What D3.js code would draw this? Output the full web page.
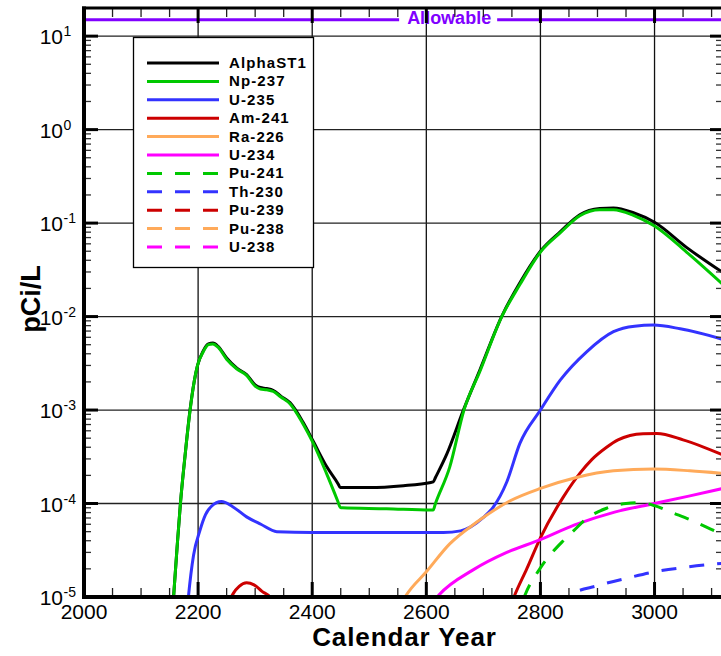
<!DOCTYPE html>
<html>
<head>
<meta charset="utf-8">
<script src="https://cdn.jsdelivr.net/npm/d3@7"></script>
<style>
  body { margin: 0; background: #fff; }
  svg { display: block; }
  text { font-family: Arial, "Liberation Sans", sans-serif; }
</style>
</head>
<body>
<svg id="chart" width="721" height="656"></svg>
<script>
// ---- data: concentration (pCi/L) versus calendar year ----
const alphaYears  = [2150, 2157, 2163, 2169, 2177, 2186, 2193, 2199, 2209, 2218, 2226, 2235, 2250, 2268, 2285, 2300, 2309, 2320, 2332, 2345, 2361, 2384, 2402, 2425, 2446, 2449, 2453, 2500, 2560, 2608, 2612, 2616, 2636, 2665, 2694, 2732, 2764, 2800, 2835, 2869, 2904, 2928, 2963, 3000, 3056, 3120];
const alphaValues = [2.5e-6, 1e-5, 3.3e-5, 1e-4, 3.2e-4, 1.02e-3, 2.0e-3, 3.0e-3, 4.3e-3, 5.1e-3, 5.2e-3, 4.8e-3, 3.6e-3, 2.8e-3, 2.4e-3, 1.86e-3, 1.74e-3, 1.70e-3, 1.62e-3, 1.41e-3, 1.20e-3, 7.4e-4, 4.6e-4, 2.5e-4, 1.6e-4, 1.48e-4, 1.48e-4, 1.48e-4, 1.55e-4, 1.68e-4, 1.7e-4, 1.9e-4, 3.4e-4, 1.0e-3, 2.7e-3, 1.0e-2, 2.3e-2, 5.0e-2, 8.1e-2, 0.123, 0.143, 0.145, 0.129, 0.102, 5.5e-2, 2.95e-2];

const npYears  = [2150, 2157, 2163, 2169, 2177, 2186, 2193, 2199, 2209, 2218, 2226, 2235, 2250, 2268, 2285, 2300, 2309, 2320, 2332, 2345, 2361, 2384, 2402, 2425, 2445, 2449, 2453, 2530, 2608, 2612, 2616, 2641, 2666, 2694, 2732, 2764, 2800, 2835, 2869, 2904, 2928, 2963, 3000, 3056, 3120];
const npValues = [2.5e-6, 1e-5, 3.3e-5, 1e-4, 3.2e-4, 1.0e-3, 2.0e-3, 3.0e-3, 4.2e-3, 5.0e-3, 5.1e-3, 4.7e-3, 3.5e-3, 2.75e-3, 2.35e-3, 1.8e-3, 1.68e-3, 1.65e-3, 1.58e-3, 1.38e-3, 1.17e-3, 7.1e-4, 4.4e-4, 2.1e-4, 1.05e-4, 9.1e-5, 9.0e-5, 8.8e-5, 8.5e-5, 8.5e-5, 1.0e-4, 2.45e-4, 1.0e-3, 2.6e-3, 9.9e-3, 2.2e-2, 4.9e-2, 7.9e-2, 0.12, 0.139, 0.139, 0.121, 0.093, 4.9e-2, 2.2e-2];

const u235Years  = [2175, 2183, 2192, 2203, 2213, 2223, 2241, 2260, 2285, 2310, 2338, 2400, 2500, 2630, 2660, 2677, 2700, 2717, 2741, 2764, 2800, 2835, 2881, 2928, 2965, 2998, 3045, 3120];
const u235Values = [2.5e-6, 1e-5, 2.8e-5, 5.1e-5, 7.6e-5, 9.3e-5, 1.05e-4, 9.3e-5, 7.2e-5, 6.0e-5, 5.0e-5, 4.9e-5, 4.9e-5, 4.9e-5, 5.1e-5, 5.6e-5, 7.1e-5, 9.1e-5, 1.7e-4, 4.4e-4, 1.0e-3, 2.1e-3, 4.2e-3, 6.9e-3, 7.9e-3, 8.1e-3, 7.4e-3, 5.7e-3];

const am241Years  = [2240, 2255, 2262, 2272, 2285, 2298, 2312, 2326, 2340, 2735, 2755, 2776, 2800, 2840, 2869, 2890, 2916, 2936, 2957, 2980, 3004, 3050, 3120];
const am241Values = [4e-6, 9e-6, 1.1e-5, 1.3e-5, 1.42e-5, 1.35e-5, 1.15e-5, 1.0e-5, 7e-6, 5.0e-6, 1.05e-5, 2.0e-5, 4.3e-5, 1.17e-4, 2.1e-4, 2.95e-4, 4.0e-4, 4.8e-4, 5.35e-4, 5.58e-4, 5.6e-4, 4.8e-4, 3.3e-4];

const ra226Years  = [2545, 2565, 2600, 2641, 2688, 2747, 2800, 2863, 2928, 2998, 3062, 3120];
const ra226Values = [6.3e-6, 1.05e-5, 1.86e-5, 3.7e-5, 6.3e-5, 1.07e-4, 1.45e-4, 1.9e-4, 2.24e-4, 2.34e-4, 2.24e-4, 2.1e-4];

const u234Years  = [2600, 2622, 2682, 2741, 2800, 2860, 2930, 3000, 3060, 3120];
const u234Values = [7.1e-6, 1.05e-5, 1.95e-5, 3.0e-5, 4.1e-5, 5.9e-5, 8.1e-5, 1.0e-4, 1.2e-4, 1.45e-4];

const pu241Years  = [2755, 2773, 2800, 2840, 2858, 2881, 2916, 2950, 2975, 3000, 3033, 3060, 3091, 3120];
const pu241Values = [5e-6, 1.05e-5, 2.05e-5, 4.0e-5, 5.1e-5, 6.9e-5, 8.9e-5, 1.0e-4, 1.02e-4, 9.5e-5, 7.9e-5, 6.8e-5, 5.6e-5, 4.6e-5];

const th230Years  = [2830, 2852, 2900, 2957, 3000, 3060, 3120];
const th230Values = [7.9e-6, 1.05e-5, 1.32e-5, 1.62e-5, 1.86e-5, 2.1e-5, 2.3e-5];

// These three stay below the lower edge of the plotted range
const pu239Years = [], pu239Values = [];
const pu238Years = [], pu238Values = [];
const u238Years  = [], u238Values  = [];

const seriesNames = ["AlphaST1", "Np-237", "U-235", "Am-241", "Ra-226", "U-234", "Pu-241", "Th-230", "Pu-239", "Pu-238", "U-238"];

const allowableValue = 15;
const allowableLabel = "Allowable";
const allowableLabelYear = 2640;

const xMajorTicks = [2000, 2200, 2400, 2600, 2800, 3000];
const yDecades = [-5, -4, -3, -2, -1, 0, 1];

// ---- layout ----
const svg = d3.select("#chart");
const plotLeft = 84, plotRight = 723, plotTop = 8, plotBottom = 597;

const x = d3.scaleLinear().domain([2000, 3120]).range([plotLeft, plotRight]);
const y = d3.scaleLog().domain([1e-5, 20]).range([plotBottom, plotTop]);

const palette = {
  black: "#000000", green: "#00c800", blue: "#3333ff",
  red: "#cc0000", orange: "#ffaa5a", magenta: "#ff00ff", purple: "#8000ff"
};

const series = [
  { name: seriesNames[0],  years: alphaYears, values: alphaValues, color: palette.black,   dash: null },
  { name: seriesNames[1],  years: npYears,    values: npValues,    color: palette.green,   dash: null },
  { name: seriesNames[2],  years: u235Years,  values: u235Values,  color: palette.blue,    dash: null },
  { name: seriesNames[3],  years: am241Years, values: am241Values, color: palette.red,     dash: null },
  { name: seriesNames[4],  years: ra226Years, values: ra226Values, color: palette.orange,  dash: null },
  { name: seriesNames[5],  years: u234Years,  values: u234Values,  color: palette.magenta, dash: null },
  { name: seriesNames[6],  years: pu241Years, values: pu241Values, color: palette.green,   dash: "15,13" },
  { name: seriesNames[7],  years: th230Years, values: th230Values, color: palette.blue,    dash: "15,13" },
  { name: seriesNames[8],  years: pu239Years, values: pu239Values, color: palette.red,     dash: "15,13" },
  { name: seriesNames[9],  years: pu238Years, values: pu238Values, color: palette.orange,  dash: "15,13" },
  { name: seriesNames[10], years: u238Years,  values: u238Values,  color: palette.magenta, dash: "15,13" }
];

svg.append("defs").append("clipPath").attr("id", "plotClip")
  .append("rect").attr("x", plotLeft).attr("y", plotTop)
  .attr("width", plotRight - plotLeft).attr("height", plotBottom - plotTop);

// ---- grid ----
const grid = svg.append("g");
grid.selectAll("line.vg").data(xMajorTicks.filter(d => d > 2000)).join("line")
  .attr("x1", d => x(d)).attr("x2", d => x(d))
  .attr("y1", plotTop).attr("y2", plotBottom)
  .attr("stroke", "#111").attr("stroke-width", 1.3);
grid.selectAll("line.hg").data(yDecades.filter(d => d > -5)).join("line")
  .attr("x1", plotLeft).attr("x2", plotRight)
  .attr("y1", d => y(Math.pow(10, d))).attr("y2", d => y(Math.pow(10, d)))
  .attr("stroke", "#222").attr("stroke-width", 1.3);

// ---- allowable limit ----
const allowG = svg.append("g");
const allowY = y(allowableValue);
const allowText = allowG.append("text")
  .attr("x", x(allowableLabelYear)).attr("y", allowY + 4)
  .attr("text-anchor", "middle")
  .attr("font-size", 18).attr("font-weight", "bold")
  .attr("fill", palette.purple)
  .text(allowableLabel);
const tb = allowText.node().getBBox();
allowG.append("line").attr("x1", plotLeft).attr("x2", tb.x - 8)
  .attr("y1", allowY).attr("y2", allowY)
  .attr("stroke", palette.purple).attr("stroke-width", 3);
allowG.append("line").attr("x1", tb.x + tb.width + 6).attr("x2", plotRight)
  .attr("y1", allowY).attr("y2", allowY)
  .attr("stroke", palette.purple).attr("stroke-width", 3);

// ---- curves ----
const line = d3.line()
  .x(d => x(d[0]))
  .y(d => y(d[1]))
  .curve(d3.curveMonotoneX);

const curves = svg.append("g").attr("clip-path", "url(#plotClip)");
series.forEach(s => {
  if (!s.years.length) return;
  const pts = s.years.map((yr, i) => [yr, s.values[i]]);
  curves.append("path")
    .attr("d", line(pts))
    .attr("fill", "none")
    .attr("stroke", s.color)
    .attr("stroke-width", 3)
    .attr("stroke-linejoin", "round")
    .attr("stroke-dasharray", s.dash);
});

// ---- axes frame and ticks ----
const axes = svg.append("g");
const xMinor = d3.range(2050, 3120, 50).filter(d => d % 200 !== 0);
const yMinor = [];
yDecades.forEach(e => { for (let m = 2; m <= 9; m++) { const v = m * Math.pow(10, e); if (v < 20) yMinor.push(v); } });

// bottom & top ticks
[[plotBottom, -1], [plotTop, 1]].forEach(([yy, dir]) => {
  axes.selectAll(null).data(xMajorTicks).join("line")
    .attr("x1", d => x(d)).attr("x2", d => x(d))
    .attr("y1", yy).attr("y2", yy + dir * 15)
    .attr("stroke", "#000").attr("stroke-width", 3);
  axes.selectAll(null).data(xMinor).join("line")
    .attr("x1", d => x(d)).attr("x2", d => x(d))
    .attr("y1", yy).attr("y2", yy + dir * 9)
    .attr("stroke", "#222").attr("stroke-width", 1.3);
});
// left & right ticks
[[plotLeft, 1, 14, 7], [plotRight, -1, 13, 7]].forEach(([xx, dir, maj, mi]) => {
  axes.selectAll(null).data(yDecades).join("line")
    .attr("x1", xx).attr("x2", xx + dir * maj)
    .attr("y1", d => y(Math.pow(10, d))).attr("y2", d => y(Math.pow(10, d)))
    .attr("stroke", "#000").attr("stroke-width", 3);
  axes.selectAll(null).data(yMinor).join("line")
    .attr("x1", xx).attr("x2", xx + dir * mi)
    .attr("y1", d => y(d)).attr("y2", d => y(d))
    .attr("stroke", "#333").attr("stroke-width", 1.3);
});

axes.append("line").attr("x1", plotLeft).attr("x2", plotLeft).attr("y1", plotTop - 1.5).attr("y2", plotBottom + 2)
  .attr("stroke", "#000").attr("stroke-width", 4);
axes.append("line").attr("x1", plotLeft - 2).attr("x2", plotRight + 2).attr("y1", plotBottom).attr("y2", plotBottom)
  .attr("stroke", "#000").attr("stroke-width", 4);
axes.append("line").attr("x1", plotLeft - 2).attr("x2", plotRight + 2).attr("y1", plotTop).attr("y2", plotTop)
  .attr("stroke", "#000").attr("stroke-width", 3);
axes.append("line").attr("x1", plotRight).attr("x2", plotRight).attr("y1", plotTop).attr("y2", plotBottom)
  .attr("stroke", "#000").attr("stroke-width", 3);

// tick labels
svg.append("g").selectAll("text").data(xMajorTicks).join("text")
  .attr("x", d => x(d)).attr("y", 619)
  .attr("text-anchor", "middle").attr("font-size", 21)
  .text(d => d);

const yl = svg.append("g").selectAll("g").data(yDecades).join("g");
yl.append("text")
  .attr("x", 63).attr("y", d => y(Math.pow(10, d)) + 8)
  .attr("text-anchor", "end").attr("font-size", 21)
  .text("10");
yl.append("text")
  .attr("x", 63.5).attr("y", d => y(Math.pow(10, d)))
  .attr("text-anchor", "start").attr("font-size", 14)
  .text(d => d < 0 ? "-" + (-d) : String(d));

// axis titles
svg.append("text")
  .attr("x", (plotLeft + plotRight) / 2 + 1).attr("y", 646)
  .attr("text-anchor", "middle").attr("font-size", 26).attr("font-weight", "bold")
  .attr("letter-spacing", 0.9)
  .text("Calendar Year");
svg.append("text")
  .attr("transform", "translate(40,299) rotate(-90)")
  .attr("text-anchor", "middle").attr("font-size", 27).attr("font-weight", "bold")
  .text("pCi/L");

// ---- legend ----
const lg = svg.append("g");
lg.append("rect").attr("x", 133.5).attr("y", 37.5).attr("width", 180).attr("height", 230)
  .attr("fill", "#fff").attr("stroke", "#000").attr("stroke-width", 1.3);
const rows = lg.selectAll("g").data(series).join("g")
  .attr("transform", (d, i) => `translate(0,${63 + i * 18.4})`);
rows.append("line").attr("x1", 147).attr("x2", 219).attr("y1", 0).attr("y2", 0)
  .attr("stroke", d => d.color).attr("stroke-width", 3)
  .attr("stroke-dasharray", d => d.dash);
rows.append("text").attr("x", 229).attr("y", 5)
  .attr("font-size", 15).attr("font-weight", "bold")
  .attr("letter-spacing", 1.1)
  .text(d => d.name);
</script>
</body>
</html>
